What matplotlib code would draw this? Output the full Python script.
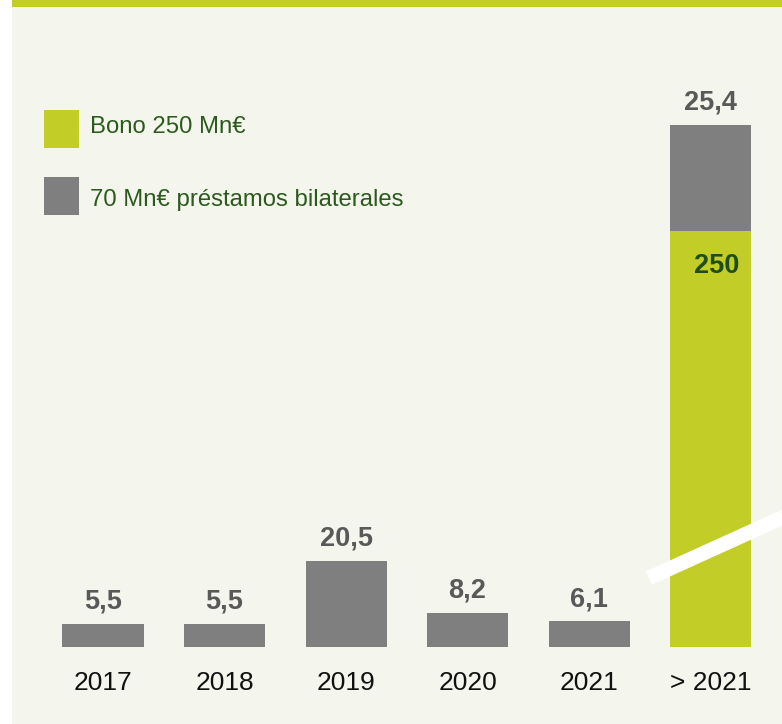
import matplotlib.pyplot as plt
import matplotlib.patches as mpatches

# Datos (Mn€)
years = ["2017", "2018", "2019", "2020", "2021", "> 2021"]
prestamos = [5.5, 5.5, 20.5, 8.2, 6.1, 25.4]
bono = [0, 0, 0, 0, 0, 250]
labels_prestamos = ["5,5", "5,5", "20,5", "8,2", "6,1", "25,4"]
label_bono = "250"

# altura visible del bono en el eje cortado
bono_visible = 99

bg = "#f4f6ee"
verde = "#c2cd28"
gris = "#7f7f7f"
txt_gris = "#595959"
txt_verde = "#2b5a1c"

fig = plt.figure(figsize=(7.82, 7.24), dpi=100)
fig.patch.set_facecolor("white")

W, H = 782, 724
# fondo y banda verde superior
fig.patches.append(mpatches.Rectangle((12 / W, 0), 1 - 12 / W, 1, transform=fig.transFigure,
                                      facecolor=bg, edgecolor="none", zorder=-2))
fig.patches.append(mpatches.Rectangle((12 / W, 1 - 7 / H), 1 - 12 / W, 7 / H, transform=fig.transFigure,
                                      facecolor=verde, edgecolor="none", zorder=-1))

ax = fig.add_axes([12 / W, 0, 1 - 12 / W, 1 - 7 / H])
ax.set_zorder(2)
ax.set_facecolor("none")
px = 4.2  # pixeles por unidad
ax.set_xlim(-0.749, 5.588)
ax.set_ylim(-(724 - 647) / px, (647 - 7) / px)
ax.axis("off")

x = list(range(len(years)))
alt_bono = [bono_visible if b > 0 else 0 for b in bono]
ax.bar(x, alt_bono, width=0.667, color=verde, zorder=2)
ax.bar(x, prestamos, width=0.667, bottom=alt_bono, color=gris, zorder=2)

fuente = ["Liberation Sans Narrow", "Liberation Sans", "DejaVu Sans"]
for i, (p, b, lab) in enumerate(zip(prestamos, alt_bono, labels_prestamos)):
    ax.text(i, p + b + 22 / px, lab, ha="center", va="center", fontsize=19.5,
            fontweight="bold", color=txt_gris, family=fuente, zorder=4)
    ax.text(i, -36 / px, years[i], ha="center", va="center", fontsize=19,
            color="#111111", family=fuente, zorder=4)

ax.text(5.05, (647 - 266) / px, label_bono, ha="center", va="center", fontsize=19.5,
        fontweight="bold", color="#1f4f16", family=fuente, zorder=4)

# marca de corte del eje
fig.add_artist(plt.Line2D([649 / W, 790 / W], [1 - 578 / H, 1 - 514 / H], color="white",
                          lw=10.5, solid_capstyle="butt", zorder=5))

# leyenda
for (y0, base, col, txt) in [(110, 133, verde, "Bono 250 Mn€"),
                             (177, 206, gris, "70 Mn€ préstamos bilaterales")]:
    fig.patches.append(mpatches.Rectangle((44 / W, 1 - (y0 + 38) / H), 35 / W, 38 / H,
                                          transform=fig.transFigure, facecolor=col,
                                          edgecolor="none", zorder=3))
    fig.text(90 / W, 1 - base / H, txt, ha="left", va="baseline", fontsize=17.2,
             color=txt_verde, family=["Liberation Sans", "DejaVu Sans"])

fig.savefig("out.png", dpi=100)
